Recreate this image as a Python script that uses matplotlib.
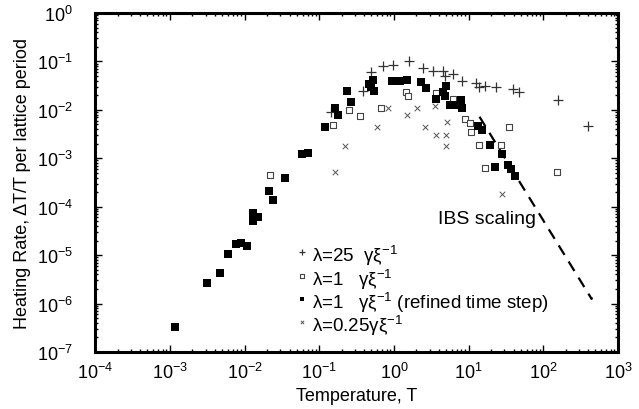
import matplotlib
matplotlib.use("Agg")
import matplotlib.pyplot as plt
from matplotlib.ticker import FixedLocator, LogLocator, NullFormatter

plt.rcParams['font.family'] = ['Liberation Sans', 'DejaVu Sans']
plt.rcParams['mathtext.fontset'] = 'custom'
plt.rcParams['mathtext.rm'] = 'Liberation Sans'
plt.rcParams['mathtext.it'] = 'Liberation Sans:italic'
plt.rcParams['mathtext.bf'] = 'Liberation Sans:bold'

# lambda = 25 (plus)
T_25 = [0.145, 0.381, 0.498, 0.706, 0.97, 1.59, 2.44, 3.33, 4.53, 4.78, 6.1,
        8.05, 12.4, 14.0, 16.6, 23.0, 39.2, 46.7, 157, 395]
R_25 = [8.9e-3, 2.5e-2, 6.1e-2, 7.9e-2, 8.5e-2, 0.101, 7.2e-2, 6.2e-2, 6.2e-2,
        5.1e-2, 5.4e-2, 3.96e-2, 3.5e-2, 2.94e-2, 3.15e-2, 2.94e-2, 2.71e-2,
        2.38e-2, 1.56e-2, 4.7e-3]

# lambda = 1 (open squares)
T_1 = [2.17e-2, 0.152, 0.247, 0.348, 0.678, 1.47, 1.54, 3.69, 6.17, 7.98, 8.83,
       10.6, 10.9, 14.0, 27.4, 34.7, 16.4, 152]
R_1 = [4.6e-4, 4.9e-3, 1.0e-2, 7.6e-3, 1.10e-2, 2.32e-2, 1.91e-2, 2.24e-2,
       1.69e-2, 1.27e-2, 6.5e-3, 5.4e-3, 3.47e-3, 1.9e-3, 1.9e-3, 4.5e-3,
       6.3e-4, 5.2e-4]

# lambda = 1, refined time step (filled squares)
T_1r = [1.16e-3, 3.18e-3, 4.74e-3, 6.0e-3, 7.6e-3, 9.06e-3, 1.09e-2, 1.30e-2,
        1.51e-2, 1.30e-2, 2.10e-2, 2.40e-2, 3.52e-2, 5.94e-2, 7.06e-2, 0.121,
        0.161, 0.178, 0.269, 0.238, 0.462, 0.524, 0.535, 0.49, 0.93, 1.19, 1.52,
        2.33, 2.72, 3.70, 4.53, 5.02, 5.57, 6.70, 7.98, 8.24, 4.78, 13.3, 15.2,
        19.1, 22.3, 28.2, 33.6, 37.3, 41.3]
R_1r = [3.3e-7, 2.7e-6, 4.3e-6, 1.07e-5, 1.66e-5, 1.74e-5, 1.58e-5, 7.5e-5,
        6.2e-5, 5.1e-5, 2.1e-4, 1.39e-4, 4.0e-4, 1.24e-3, 1.30e-3, 4.5e-3,
        1.10e-2, 8.0e-3, 1.48e-2, 2.39e-2, 3.44e-2, 4.2e-2, 2.43e-2, 3.0e-2,
        4.0e-2, 4.0e-2, 4.1e-2, 3.7e-2, 2.84e-2, 1.69e-2, 2.38e-2, 3.17e-2,
        1.23e-2, 1.23e-2, 1.56e-2, 1.08e-2, 1.97e-2, 4.7e-3, 3.9e-3, 1.90e-3,
        6.6e-4, 1.24e-3, 7.1e-4, 6.1e-4, 4.4e-4]

# lambda = 0.25 (crosses)
T_025 = [0.161, 0.219, 0.596, 0.832, 1.50, 2.01, 2.62, 3.56, 3.61, 5.02, 5.20,
         4.92, 27.9]
R_025 = [5.1e-4, 1.79e-3, 4.4e-3, 1.11e-2, 7.9e-3, 1.09e-2, 4.5e-3, 1.21e-2,
         2.98e-3, 2.98e-3, 5.6e-3, 1.81e-3, 1.85e-4]

# IBS scaling line (T^-5/2)
T_ibs = [14.0, 440.0]
R_ibs = [7.2e-3, 1.28e-6]

x_ticks = [1e-4, 1e-3, 1e-2, 1e-1, 1e0, 1e1, 1e2, 1e3]
y_ticks = [1e-7, 1e-6, 1e-5, 1e-4, 1e-3, 1e-2, 1e-1, 1e0]

labels = [r'λ=25  γξ$^{-1}$',
          r'λ=1   γξ$^{-1}$',
          r'λ=1   γξ$^{-1}$ (refined time step)',
          r'λ=0.25γξ$^{-1}$']

fig = plt.figure(figsize=(6.39, 4.10), dpi=100)
ax = fig.add_axes([0.149, 0.139, 0.818, 0.827])

ax.plot(T_ibs, R_ibs, color='black', lw=1.6, dashes=(5, 3.5), zorder=1)
ax.plot(T_ibs[-1:], R_ibs[-1:], '.', color='black', ms=2, zorder=1)

styles = [
    dict(marker='+', s=45, color='#333333', lw=0.9, zorder=3),
    dict(marker='s', s=22, facecolor='white', edgecolor='#444444', lw=0.8, zorder=2),
    dict(marker='s', s=30, color='black', lw=0, zorder=4),
    dict(marker='x', s=16, color='#555555', lw=0.7, zorder=2),
]
series = [(T_25, R_25), (T_1, R_1), (T_1r, R_1r), (T_025, R_025)]
for (t, r), st in zip(series, styles):
    ax.scatter(t, r, **st)

ax.set_xscale('log')
ax.set_yscale('log')
ax.set_xlim(1e-4, 1e3)
ax.set_ylim(1e-7, 1e0)

ax.xaxis.set_major_locator(FixedLocator(x_ticks))
ax.yaxis.set_major_locator(FixedLocator(y_ticks))
for a in (ax.xaxis, ax.yaxis):
    a.set_minor_locator(LogLocator(base=10, subs=range(2, 10), numticks=20))
    a.set_minor_formatter(NullFormatter())

ax.tick_params(which='both', direction='in', top=True, right=True, width=1.0)
ax.tick_params(which='major', length=5, labelsize=13)
ax.tick_params(which='minor', length=2.5)
ax.tick_params(axis='y', pad=16)
ax.tick_params(axis='x', pad=7)
for s in ax.spines.values():
    s.set_linewidth(2.2)

ax.set_xlabel('Temperature, T', fontsize=13)
ax.set_ylabel('Heating Rate, ΔT/T per lattice period', fontsize=13, labelpad=4)

ax.text(3.85, 4.7e-5, 'IBS scaling', fontsize=14, ha='left', va='baseline')

# legend drawn by hand so the rows sit evenly like the original
leg_y = [0.295, 0.224, 0.156, 0.0885]
for y, st, lab in zip(leg_y, styles, labels):
    st = dict(st)
    st['s'] = st['s'] * 0.35
    st['zorder'] = 5
    ax.scatter([0.396], [y], transform=ax.transAxes, clip_on=False, **st)
    ax.text(0.414, y, lab, transform=ax.transAxes, fontsize=13.5,
            ha='left', va='center_baseline')

fig.savefig('out.png', dpi=100)
